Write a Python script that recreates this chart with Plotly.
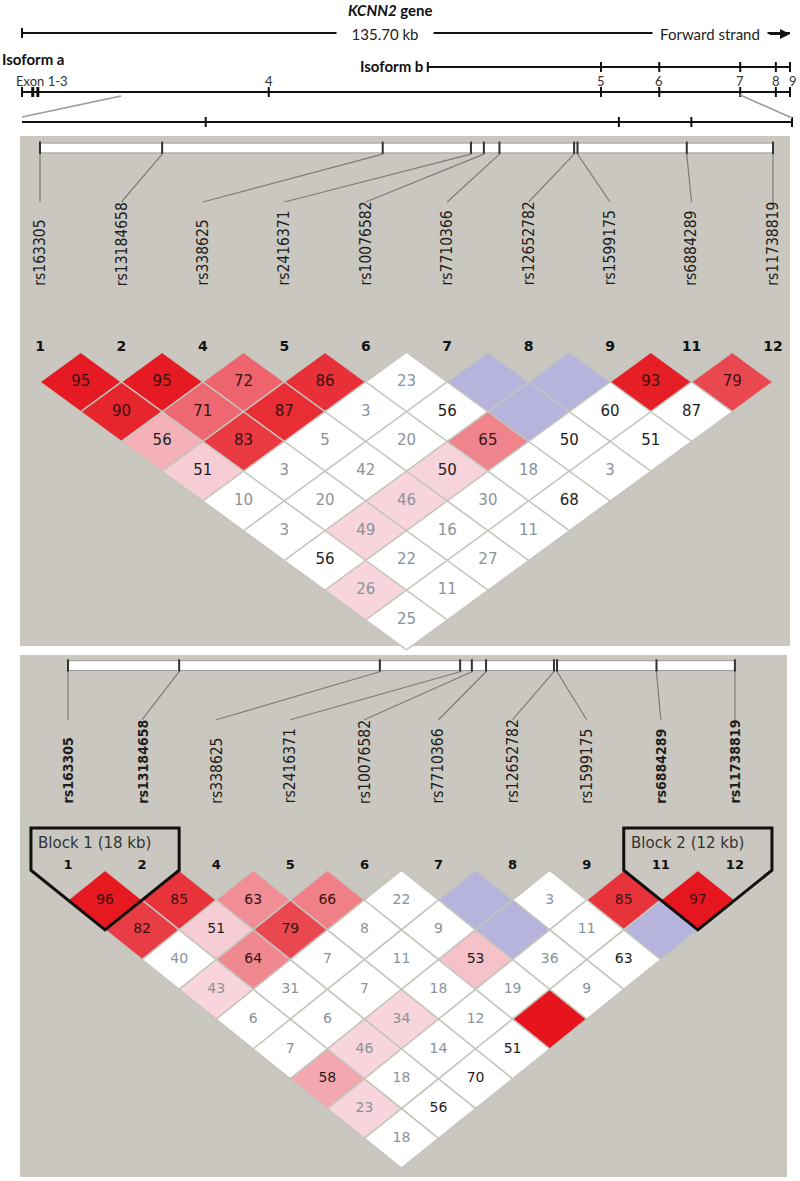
import plotly.graph_objects as go

W, H = 800, 1181

# ------------------------------------------------------------------ data
GENE_NAME = "KCNN2"
GENE_LEN_KB = 135.70
EXON_KB = [0.0, 1.9, 2.8, 43.6, 102.3, 112.6, 126.9, 133.2, 135.7]
EXON_LABELS = ["Exon 1-3", "", "", "4", "5", "6", "7", "8", "9"]
ISOFORM_B_START_KB = 71.7
ISOFORM_B_EXON_IDX = [4, 5, 6, 7, 8]
ZOOM_KB = [17.5, 126.9]
ZOOM_EXON_IDX = [3, 4, 5, 6]

SNPS = ["rs163305", "rs13184658", "rs338625", "rs2416371", "rs10076582",
        "rs7710366", "rs12652782", "rs1599175", "rs6884289", "rs11738819"]
MARKER_NUMS = [1, 2, 4, 5, 6, 7, 8, 9, 11, 12]
SNP_KB = [0.0, 18.0, 50.5, 63.5, 65.4, 67.7, 78.7, 79.2, 95.3, 108.0]
P2_BOLD_SNPS = ["rs163305", "rs13184658", "rs6884289", "rs11738819"]

# D' x 100 by marker distance (row 1 = adjacent pairs); None = D' of 1 (no number)
P1_DPRIME = [
    [95, 95, 72, 86, 23, None, None, 93, 79],
    [90, 71, 87, 3, 56, None, 60, 87],
    [56, 83, 5, 20, 65, 50, 51],
    [51, 3, 42, 50, 18, 3],
    [10, 20, 46, 30, 68],
    [3, 49, 16, 11],
    [56, 22, 27],
    [26, 11],
    [25],
]
P1_LOD_HIGH = [
    [1, 1, 1, 1, 0, 0, 0, 1, 1],
    [1, 1, 1, 0, 0, 0, 0, 0],
    [1, 1, 0, 0, 1, 0, 0],
    [1, 0, 0, 1, 0, 0],
    [0, 0, 1, 0, 0],
    [0, 1, 0, 0],
    [0, 0, 0],
    [1, 0],
    [0],
]
P2_DPRIME = [
    [96, 85, 63, 66, 22, None, 3, 85, 97],
    [82, 51, 79, 8, 9, None, 11, None],
    [40, 64, 7, 11, 53, 36, 63],
    [43, 31, 7, 18, 19, 9],
    [6, 6, 34, 12, None],
    [7, 46, 14, 51],
    [58, 18, 70],
    [23, 56],
    [18],
]
P2_LOD_HIGH = [
    [1, 1, 1, 1, 0, 0, 0, 1, 1],
    [1, 1, 1, 0, 0, 0, 0, 0],
    [0, 1, 0, 0, 1, 0, 0],
    [1, 0, 0, 0, 0, 0],
    [0, 0, 1, 0, 1],
    [0, 1, 0, 0],
    [1, 0, 0],
    [1, 0],
    [0],
]
P2_BLOCKS = [(0, 1, "Block 1 (18 kb)"), (8, 9, "Block 2 (12 kb)")]

# ------------------------------------------------------------------ geometry (layout)
GENE_PX = (22, 790)
ZOOM_PX = (22, 792)
gene_scale = (GENE_PX[1] - GENE_PX[0]) / GENE_LEN_KB
zoom_scale = (ZOOM_PX[1] - ZOOM_PX[0]) / (ZOOM_KB[1] - ZOOM_KB[0])

LABEL_FONT = "Liberation Sans Narrow, Arial Narrow, DejaVu Sans Condensed, sans-serif"
PANELS = [
    dict(x0=40, dx=81.44, y0=352.25, dy=29.75, bg=(20, 136, 790, 646), fs=15,
         dp=P1_DPRIME, lod=P1_LOD_HIGH, bold=[], blocks=[], xa="x3", ya="y3"),
    dict(x0=68, dx=74.1, y0=870.2, dy=29.8, bg=(20, 655, 787, 1177), fs=14,
         dp=P2_DPRIME, lod=P2_LOD_HIGH, bold=P2_BOLD_SNPS, blocks=P2_BLOCKS,
         xa="x4", ya="y4"),
]


def xr(p0, scale, v0=0.0):
    return [v0 - p0 / scale, v0 + (W - p0) / scale]


def yr(p0, scale, v0=0.0):
    return [v0 + (H - p0) / scale, v0 - p0 / scale]


def zoom_to_gene(v):
    px = ZOOM_PX[0] + (v - ZOOM_KB[0]) * zoom_scale
    return (px - GENE_PX[0]) / gene_scale


BLACK = "#111111"
shapes, annotations, traces = [], [], []


def line(x0, y0, x1, y1, xref, yref, color=BLACK, width=2):
    shapes.append(dict(type="line", x0=x0, y0=y0, x1=x1, y1=y1, xref=xref,
                       yref=yref, line=dict(color=color, width=width), layer="below"))


# ------------------------------------------------------------------ panel backgrounds
for p in PANELS:
    bx0, by0, bx1, by1 = p["bg"]
    shapes.append(dict(type="rect", xref="paper", yref="y", x0=bx0 / W, x1=bx1 / W,
                       y0=by0, y1=by1, fillcolor="#c9c7bf", line=dict(width=0),
                       layer="below"))

# ------------------------------------------------------------------ gene track
line(0, 33, GENE_LEN_KB, 33, "x", "y")
line(0, 28, 0, 38, "x", "y")
annotations.append(dict(text="<b><i>%s</i> gene</b>" % GENE_NAME, x=390 / W, y=10,
                        xref="paper", yref="y", xanchor="center", showarrow=False,
                        font=dict(family="Lato", size=15, color=BLACK)))
annotations.append(dict(text="%.2f kb" % GENE_LEN_KB, x=385 / W, y=34, xref="paper",
                        yref="y", xanchor="center", showarrow=False, bgcolor="white",
                        width=94, font=dict(family="Lato", size=15, color="#222")))
annotations.append(dict(text="Forward strand", x=710 / W, y=34, xref="paper", yref="y",
                        xanchor="center", showarrow=False, bgcolor="white", width=112,
                        font=dict(family="Lato", size=15, color="#222")))
annotations.append(dict(text="", x=GENE_LEN_KB, y=34, xref="x", yref="y",
                        showarrow=True, ax=-22, ay=0, arrowhead=2, arrowsize=1,
                        arrowwidth=2, arrowcolor=BLACK))

annotations.append(dict(text="<b>Isoform a</b>", x=0, y=59, xref="paper", yref="y",
                        xanchor="left", showarrow=False,
                        font=dict(family="Lato", size=15, color=BLACK)))
annotations.append(dict(text="<b>Isoform b</b>", x=ISOFORM_B_START_KB, y=66, xref="x",
                        yref="y", xanchor="right", xshift=-3, showarrow=False,
                        font=dict(family="Lato", size=15, color=BLACK)))
line(ISOFORM_B_START_KB, 67, GENE_LEN_KB, 67, "x", "y")
line(ISOFORM_B_START_KB, 62, ISOFORM_B_START_KB, 72, "x", "y")
for k in ISOFORM_B_EXON_IDX:
    line(EXON_KB[k], 62, EXON_KB[k], 72, "x", "y")

line(0, 92, GENE_LEN_KB, 92, "x", "y")
for k, kb in enumerate(EXON_KB):
    line(kb, 87, kb, 97, "x", "y", width=3 if k in (1, 2) else 2)
for k, (kb, lab) in enumerate(zip(EXON_KB, EXON_LABELS)):
    if not lab:
        continue
    annotations.append(dict(text=lab, x=kb, y=81, xref="x", yref="y", showarrow=False,
                            xanchor="left" if k == 0 else "center",
                            xshift=-8 if k == 0 else (3 if k == len(EXON_KB) - 1 else 0),
                            font=dict(family="Lato", size=13, color="#333")))

line(ZOOM_KB[0], 122, ZOOM_KB[1], 122, "x2", "y")
for k in ZOOM_EXON_IDX:
    line(EXON_KB[k], 117, EXON_KB[k], 127, "x2", "y")
line(ZOOM_KB[0], 96, zoom_to_gene(ZOOM_KB[0]), 117, "x", "y", color="#9a9a9a", width=1.5)
line(ZOOM_KB[1], 95, zoom_to_gene(ZOOM_KB[1]), 118, "x", "y", color="#9a9a9a", width=1.5)

traces.append(go.Scatter(x=[0], y=[0], xaxis="x", yaxis="y", mode="markers",
                         marker=dict(opacity=0), hoverinfo="skip", showlegend=False))
traces.append(go.Scatter(x=[ZOOM_KB[0]], y=[0], xaxis="x2", yaxis="y", mode="markers",
                         marker=dict(opacity=0), hoverinfo="skip", showlegend=False))


# ------------------------------------------------------------------ LD panels
def cell_fill(v, lod):
    dp = 1.0 if v is None else v / 100.0
    if lod:
        blgr = 224.0 if dp < 0.5 else (255 - 32) * 2 * (1 - dp)
        blgr = 224.0 * (blgr / 224.0) ** 1.5
        r = 230 + 18 * blgr / 224
        g = 20 + 0.86 * blgr
        b = 28 + 0.86 * blgr
        return "rgb(%d,%d,%d)" % (r, g, b), blgr
    if dp > 0.99:
        return "#b6b3dc", 255
    return "#ffffff", 255


n = len(SNPS)
ruler_max = SNP_KB[-1]
for p in PANELS:
    xa, ya = p["xa"], p["ya"]
    ruler = [kb / ruler_max * (n - 1) for kb in SNP_KB]
    shapes.append(dict(type="rect", xref=xa, yref=ya, x0=0, x1=n - 1, y0=-7.03, y1=-6.70,
                       fillcolor="white", line=dict(color="#9a9a9a", width=1),
                       layer="below"))
    for i, rx in enumerate(ruler):
        line(rx, -7.08, rx, -6.66, xa, ya, color="#333333", width=2)
        line(rx, -6.66, i, -5.05, xa, ya, color="#7c7c7c", width=1.2)
    for i, s in enumerate(SNPS):
        bold = s in p["bold"]
        annotations.append(dict(
            text="<b>%s</b>" % s if bold else s, x=i, y=-2.17, xref=xa, yref=ya,
            textangle=-90, xanchor="center", yanchor="bottom", showarrow=False,
            font=dict(family=LABEL_FONT, size=14 if bold else 15.5, color="#1e1e1e")))
    groups = {}
    for d, (rv, rl) in enumerate(zip(p["dp"], p["lod"]), start=1):
        for i, (v, l) in enumerate(zip(rv, rl)):
            j = i + d
            cx, cy = (i + j) / 2.0, float(d)
            fill, blgr = cell_fill(v, l)
            shapes.append(dict(
                type="path", xref=xa, yref=ya, layer="below",
                path="M %f,%f L %f,%f L %f,%f L %f,%f Z" % (
                    cx, cy - 1, cx + 0.5, cy, cx, cy + 1, cx - 0.5, cy),
                fillcolor=fill, line=dict(color="#c5c5bd", width=1.5)))
            if v is None:
                continue
            if l and blgr < 150:
                col = "#3a1212"
            elif v >= 50:
                col = "#1e1e1e"
            else:
                col = "#8a939b"
            g = groups.setdefault(col, ([], [], []))
            g[0].append(cx)
            g[1].append(cy)
            g[2].append(str(v))
    for col, (gx, gy, gt) in groups.items():
        traces.append(go.Scatter(x=gx, y=gy, text=gt, mode="text", xaxis=xa, yaxis=ya,
                                 textfont=dict(family="DejaVu Sans", size=p["fs"], color=col),
                                 hoverinfo="skip", showlegend=False))
    traces.append(go.Scatter(x=list(range(n)), y=[-0.15] * n, text=[str(m) for m in MARKER_NUMS],
                             mode="text", xaxis=xa, yaxis=ya,
                             textfont=dict(family="DejaVu Sans", size=p["fs"] - 1, color="#111",
                                           weight="bold"),
                             hoverinfo="skip", showlegend=False))
    for f, l, lab in p["blocks"]:
        bx0, bx1 = f - 0.5, l + 0.5
        shapes.append(dict(
            type="path", xref=xa, yref=ya, layer="below",
            path="M %f,%f L %f,%f L %f,%f L %f,%f L %f,%f Z" % (
                bx0, -1.42, bx1, -1.42, bx1, 0.0, (f + l) / 2.0, float(l - f + 1),
                bx0, 0.0),
            fillcolor="rgba(0,0,0,0)", line=dict(color=BLACK, width=3)))
        annotations.append(dict(text=lab, x=bx0 + 0.07, y=-0.92, xref=xa, yref=ya,
                                xanchor="left", showarrow=False,
                                font=dict(family="DejaVu Sans", size=15, color="#333")))

# ------------------------------------------------------------------ figure
ax_common = dict(visible=False, fixedrange=True, domain=[0, 1], autorange=False)
P1, P2 = PANELS
layout = go.Layout(
    width=W, height=H, margin=dict(l=0, r=0, t=0, b=0),
    paper_bgcolor="white", plot_bgcolor="rgba(0,0,0,0)", showlegend=False,
    xaxis=dict(range=xr(GENE_PX[0], gene_scale), anchor="y", **ax_common),
    xaxis2=dict(range=xr(ZOOM_PX[0], zoom_scale, ZOOM_KB[0]), overlaying="x",
                anchor="y", **ax_common),
    xaxis3=dict(range=xr(P1["x0"], P1["dx"]), overlaying="x", anchor="y3", **ax_common),
    xaxis4=dict(range=xr(P2["x0"], P2["dx"]), overlaying="x", anchor="y4", **ax_common),
    yaxis=dict(range=[H, 0], anchor="x", **ax_common),
    yaxis3=dict(range=yr(P1["y0"], P1["dy"]), overlaying="y", anchor="x3", **ax_common),
    yaxis4=dict(range=yr(P2["y0"], P2["dy"]), overlaying="y", anchor="x4", **ax_common),
    shapes=shapes, annotations=annotations,
)
fig = go.Figure(data=traces, layout=layout)
fig.write_html("out.html", config={"displayModeBar": False, "staticPlot": True},
               post_script="document.body.style.margin='0';")
